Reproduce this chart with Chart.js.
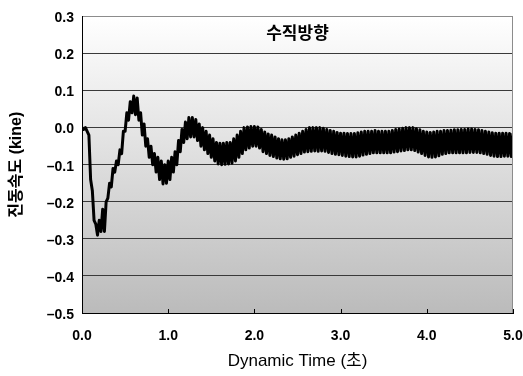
<!DOCTYPE html>
<html>
<head>
<meta charset="utf-8">
<script src="https://cdn.jsdelivr.net/npm/chart.js@4.4.1/dist/chart.umd.min.js"></script>
<style>
  html, body { margin: 0; padding: 0; background: #fff; }
  #wrap { width: 523px; height: 376px; }
</style>
</head>
<body>
<div id="wrap"><canvas id="vib-chart"></canvas></div>
<script>
const chartTitle = '수직방향';
const xTitle = 'Dynamic Time (초)';
const yTitle = '진동속도 (kine)';

// sampling interval of the record (s)
const sampleStep = 0.02;
const xTicks = [0, 1, 2, 3, 4, 5];
const yTicks = [0.3, 0.2, 0.1, 0.0, -0.1, -0.2, -0.3, -0.4, -0.5];

// vertical vibration velocity (kine), one value per sample
const velocity = [
  0.00, -0.005, 0.00, -0.01, -0.02, -0.14, -0.17, -0.25, -0.26, -0.29,
  -0.25, -0.28, -0.22, -0.28, -0.20, -0.19, -0.15, -0.16, -0.11, -0.12,
  -0.09, -0.10, -0.06, -0.07, -0.01, -0.01, 0.04, 0.02, 0.07, 0.04,
  0.085, 0.035, 0.08, 0.02, 0.04, -0.02, 0.01, -0.05, -0.03, -0.08,
  -0.05, -0.10, -0.07, -0.12, -0.08, -0.14, -0.09, -0.152, -0.10, -0.15,
  -0.09, -0.14, -0.08, -0.12, -0.065, -0.10, -0.035, -0.065, -0.005, -0.04,
  0.015, -0.03, 0.027, -0.025, 0.027, -0.025, 0.022, -0.035, 0.01, -0.05,
  0.0, -0.06, -0.01, -0.07, -0.02, -0.08, -0.03, -0.09, -0.04, -0.098,
  -0.042, -0.10, -0.042, -0.099, -0.04, -0.098, -0.04, -0.096, -0.03, -0.09,
  -0.02, -0.08, -0.01, -0.07, 0.0, -0.06, 0.002, -0.055, 0.003, -0.05,
  0.003, -0.05, 0.002, -0.055, -0.005, -0.065, -0.012, -0.07, -0.017, -0.075,
  -0.02, -0.078, -0.025, -0.082, -0.03, -0.084, -0.033, -0.085, -0.033, -0.084,
  -0.03, -0.08, -0.025, -0.077, -0.02, -0.073, -0.015, -0.07, -0.01, -0.066,
  -0.005, -0.065, 0.0, -0.064, 0.0, -0.063, 0.0, -0.064, 0.0, -0.063,
  -0.002, -0.064, -0.005, -0.067, -0.008, -0.07, -0.01, -0.072, -0.013, -0.073,
  -0.015, -0.075, -0.015, -0.077, -0.016, -0.078, -0.016, -0.079, -0.016, -0.079,
  -0.014, -0.077, -0.012, -0.074, -0.01, -0.072, -0.01, -0.07, -0.01, -0.068,
  -0.008, -0.068, -0.01, -0.068, -0.01, -0.068, -0.01, -0.068, -0.01, -0.068,
  -0.008, -0.066, -0.005, -0.065, -0.004, -0.063, -0.002, -0.062, 0.0, -0.06,
  0.0, -0.06, 0.0, -0.062, -0.003, -0.066, -0.006, -0.07, -0.01, -0.075,
  -0.012, -0.079, -0.013, -0.08, -0.012, -0.079, -0.01, -0.076, -0.01, -0.072,
  -0.008, -0.07, -0.008, -0.068, -0.007, -0.068, -0.006, -0.068, -0.006, -0.068,
  -0.005, -0.068, -0.005, -0.068, -0.004, -0.067, -0.004, -0.067, -0.005, -0.067,
  -0.006, -0.068, -0.008, -0.07, -0.01, -0.072, -0.012, -0.075, -0.014, -0.077,
  -0.015, -0.078, -0.015, -0.078, -0.015, -0.077, -0.015, -0.077, -0.016, -0.078,
  -0.015
];

const points = velocity.map((v, i) => ({ x: +(i * sampleStep).toFixed(2), y: v }));

const fontFamily = "'Liberation Sans', 'Noto Sans CJK KR', sans-serif";
const fmt = v => v.toFixed(1).replace('-', '\u2013');

// grey gradient behind the plot, border lines and inward x ticks
const plotDecor = {
  id: 'plotDecor',
  beforeDraw(chart) {
    const { ctx, chartArea: a } = chart;
    const g = ctx.createLinearGradient(0, a.top, 0, a.bottom);
    g.addColorStop(0, '#ffffff');
    g.addColorStop(1, '#bbbbbb');
    ctx.save();
    ctx.fillStyle = g;
    ctx.fillRect(a.left, a.top, a.right - a.left, a.bottom - a.top);
    ctx.restore();
  },
  afterDraw(chart) {
    const { ctx, chartArea: a, scales } = chart;
    ctx.save();
    ctx.strokeStyle = '#8c8c8c';
    ctx.lineWidth = 1;
    ctx.beginPath();
    ctx.moveTo(a.right - 0.5, a.top);
    ctx.lineTo(a.right - 0.5, a.bottom);
    ctx.stroke();
    ctx.strokeStyle = '#000';
    ctx.beginPath();
    xTicks.forEach(t => {
      const px = Math.round(scales.x.getPixelForValue(t)) + 0.5;
      ctx.moveTo(px, a.bottom);
      ctx.lineTo(px, a.bottom - 4);
    });
    ctx.stroke();
    ctx.restore();
  }
};

new Chart(document.getElementById('vib-chart'), {
  type: 'line',
  data: {
    datasets: [{
      label: yTitle,
      data: points,
      borderColor: '#000',
      borderWidth: 3,
      borderJoinStyle: 'round',
      pointRadius: 0,
      tension: 0,
      fill: false
    }]
  },
  options: {
    responsive: true,
    maintainAspectRatio: false,
    animation: false,
    layout: { padding: { top: 11, right: 10, left: 0, bottom: 0 } },
    plugins: {
      legend: { display: false },
      tooltip: { enabled: false },
      title: { display: false }
    },
    scales: {
      x: {
        type: 'linear',
        min: 0,
        max: 5,
        afterBuildTicks: s => { s.ticks = xTicks.map(v => ({ value: v })); },
        afterFit: s => { s.height = 63; s.paddingLeft = 0; s.paddingRight = 0; },
        grid: { display: false, drawTicks: false },
        border: { display: true, color: '#000', width: 1 },
        ticks: {
          padding: 15,
          maxRotation: 0,
          color: '#000',
          font: { family: fontFamily, size: 14, weight: 'bold' },
          callback: v => fmt(v)
        },
        title: {
          display: true,
          text: xTitle,
          color: '#000',
          padding: { top: 0, bottom: 4 },
          font: { family: fontFamily, size: 17 }
        }
      },
      y: {
        min: -0.5,
        max: 0.3,
        afterBuildTicks: s => { s.ticks = yTicks.map(v => ({ value: v })); },
        afterFit: s => { s.width = 82; },
        grid: {
          drawTicks: false,
          color: ctx => (ctx.tick && ctx.tick.value > 0.25 ? '#8c8c8c' : '#3a3a3a'),
          lineWidth: 1
        },
        border: { display: true, color: '#000', width: 1 },
        ticks: {
          padding: 8,
          labelOffset: 2,
          color: '#000',
          font: { family: fontFamily, size: 14, weight: 'bold' },
          callback: v => fmt(v)
        },
        title: {
          display: true,
          text: yTitle,
          color: '#000',
          padding: { top: 7, bottom: 0 },
          font: { family: fontFamily, size: 16, weight: 'bold' }
        }
      }
    }
  },
  plugins: [plotDecor, {
    id: 'innerTitle',
    afterDatasetsDraw(chart) {
      const { ctx, chartArea: a } = chart;
      ctx.save();
      ctx.fillStyle = '#000';
      ctx.font = `bold 17px ${fontFamily}`;
      ctx.textAlign = 'center';
      ctx.textBaseline = 'middle';
      ctx.fillText(chartTitle, (a.left + a.right) / 2, a.top + 18);
      ctx.restore();
    }
  }]
});
</script>
</body>
</html>
